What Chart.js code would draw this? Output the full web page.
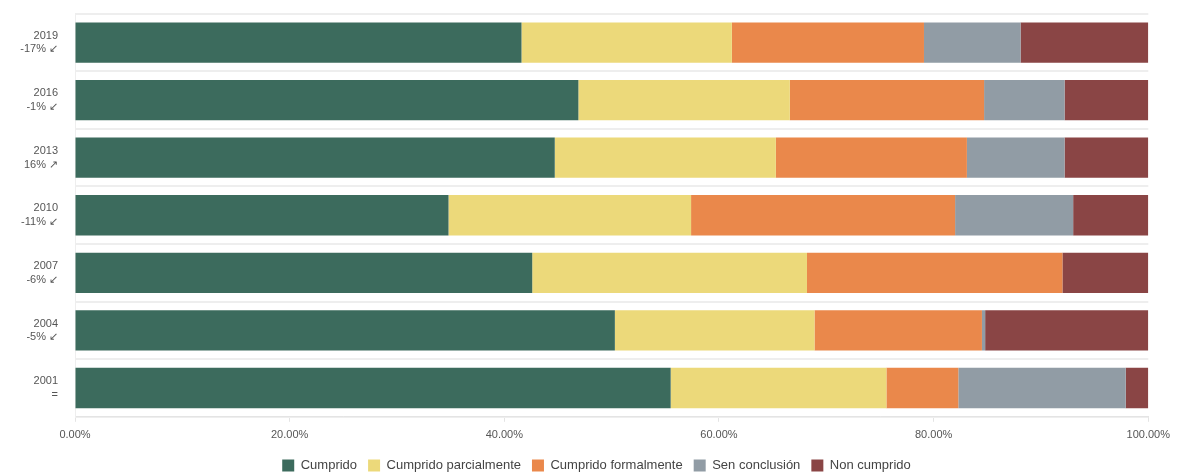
<!DOCTYPE html>
<html>
<head>
<meta charset="utf-8">
<script src="https://cdn.jsdelivr.net/npm/chart.js@4.4.1/dist/chart.umd.min.js"></script>
<style>
  html, body { margin: 0; padding: 0; background: #fff; }
  #wrap { width: 1177px; height: 476px; }
</style>
</head>
<body>
<div id="wrap"><canvas id="chart"></canvas></div>
<script>
// categories (two-line labels)
const years = ['2019', '2016', '2013', '2010', '2007', '2004', '2001'];
const changes = ['-17% \u2199', '-1% \u2199', '16% \u2197', '-11% \u2199', '-6% \u2199', '-5% \u2199', '='];

// shares per category, in percent
const cumprido = [41.6, 46.9, 44.7, 34.8, 42.6, 50.3, 55.5];
const parcial = [19.6, 19.7, 20.6, 22.6, 25.6, 18.6, 20.1];
const formal = [17.9, 18.1, 17.8, 24.6, 23.8, 15.6, 6.7];
const senConclusion = [9.0, 7.5, 9.1, 11.0, 0, 0.3, 15.6];
const nonCumprido = [11.9, 7.8, 7.8, 7.0, 8.0, 15.2, 2.1];

const seriesNames = ['Cumprido', 'Cumprido parcialmente', 'Cumprido formalmente', 'Sen conclusión', 'Non cumprido'];
const seriesColors = ['#3c6b5d', '#ecd97a', '#ea884b', '#919ca5', '#8a4545'];

const labels = years.map((y, i) => [y, changes[i]]);
const allSeries = [cumprido, parcial, formal, senConclusion, nonCumprido];

const ctx = document.getElementById('chart').getContext('2d');
new Chart(ctx, {
    type: 'bar',
    data: {
        labels: labels,
        datasets: allSeries.map((d, i) => ({
            label: seriesNames[i],
            data: d,
            backgroundColor: seriesColors[i],
            borderWidth: 0,
            categoryPercentage: 1,
            barPercentage: 0.7
        }))
    },
    options: {
        indexAxis: 'y',
        responsive: true,
        maintainAspectRatio: false,
        animation: false,
        layout: { padding: { top: 0, right: 4, left: 20, bottom: -6 } },
        plugins: {
            tooltip: { enabled: false },
            legend: {
                position: 'bottom',
                labels: {
                    boxWidth: 12,
                    boxHeight: 12,
                    padding: 11,
                    color: '#444',
                    font: { family: 'Liberation Sans', size: 13 }
                }
            }
        },
        scales: {
            x: {
                stacked: true,
                min: 0,
                max: 100,
                afterFit: s => { s.height -= 1; },
                ticks: {
                    stepSize: 20,
                    color: '#555',
                    padding: 7,
                    font: { family: 'Liberation Sans', size: 11 },
                    callback: v => v.toFixed(2) + '%'
                },
                grid: { drawOnChartArea: false, drawTicks: true, tickLength: 5, color: '#e4e4e4' },
                border: { color: '#e4e4e4' }
            },
            y: {
                stacked: true,
                afterFit: s => { s.width = 55; },
                ticks: {
                    color: '#555',
                    padding: 0,
                    font: { family: 'Liberation Sans', size: 11, lineHeight: 1.25 }
                },
                grid: { color: '#eeeeee', lineWidth: 2, drawTicks: true, tickLength: 17, tickColor: 'rgba(0,0,0,0)' },
                border: { color: '#eeeeee' }
            }
        }
    }
});
</script>
</body>
</html>
